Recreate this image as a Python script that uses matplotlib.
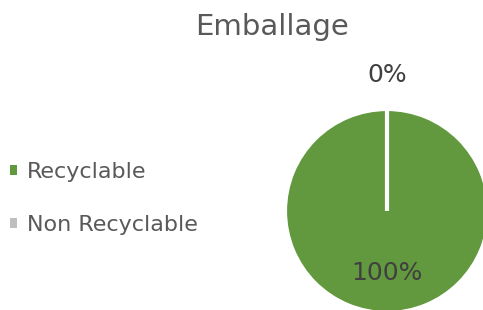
import matplotlib.pyplot as plt
from matplotlib.patches import Patch
import numpy as np

# données
categories = ['Recyclable', 'Non Recyclable']
valeurs = [100, 0]
couleurs = ['#62993e', '#bfbfbf']
titre = 'Emballage'

plt.rcParams['font.family'] = ['DejaVu Sans']

W, H = 483, 310
fig = plt.figure(figsize=(W / 100, H / 100), dpi=100)

# camembert: centre (387, 211) px, rayon 102 px
cx, cy, r = 387, 211, 102
ax = fig.add_axes([(cx - r) / W, (H - cy - r) / H, 2 * r / W, 2 * r / H])
wedges, _ = ax.pie(valeurs, colors=couleurs, startangle=90, counterclock=False,
                   wedgeprops=dict(edgecolor='white', linewidth=3))
ax.set_xlim(-1, 1)
ax.set_ylim(-1, 1)
ax.axis('off')

# étiquettes en pourcentage
total = sum(valeurs)
distances = [0.61, 1.33]
for w, v, d in zip(wedges, valeurs, distances):
    ang = np.deg2rad((w.theta1 + w.theta2) / 2)
    ax.text(d * np.cos(ang), d * np.sin(ang), f'{v / total:.0%}',
            ha='center', va='center', fontsize=18, color='#404040', clip_on=False)

fig.text(272 / W, 1 - 27 / H, titre, ha='center', va='center', fontsize=21, color='#595959')

handles = [Patch(facecolor=c, edgecolor='none') for c in couleurs]
fig.legend(handles, categories, loc='center left', bbox_to_anchor=(10 / W, 1 - 198.5 / H),
           frameon=False, fontsize=16, labelcolor='#595959', handlelength=0.3,
           handleheight=0.3, handletextpad=0.48, labelspacing=1.48, borderaxespad=0,
           borderpad=0)

plt.savefig('out.png', dpi=100)
